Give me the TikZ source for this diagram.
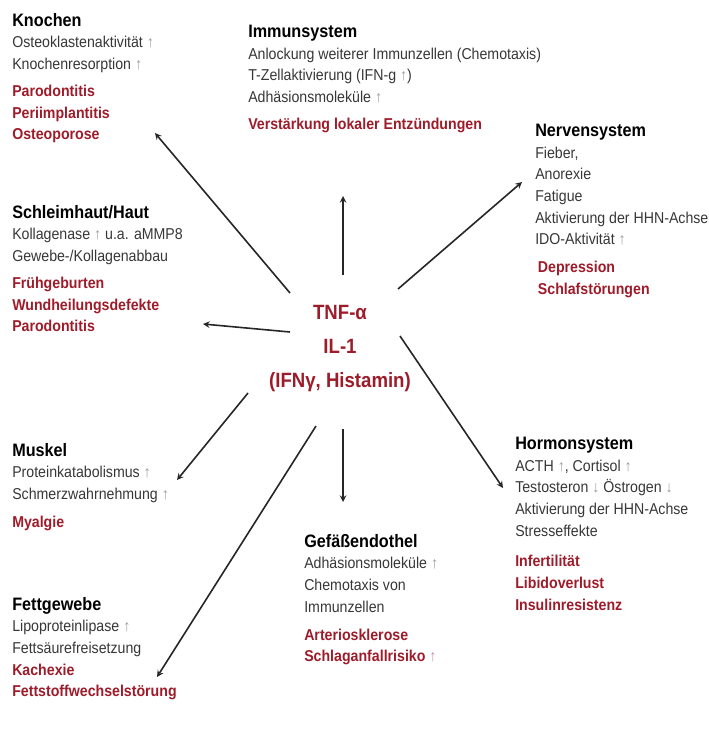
\documentclass[tikz,border=0pt]{standalone}
\usepackage{fontspec}
\setmainfont{Liberation Sans}[FakeStretch=0.9]
\usetikzlibrary{arrows}
\definecolor{folgered}{RGB}{158,27,42}
\definecolor{textgrey}{RGB}{55,55,55}
\newcommand{\organ}[1]{{\fontsize{13.5}{16}\selectfont\bfseries\color{black}#1}}
\newcommand{\folge}[1]{{\bfseries\color{folgered}#1}}
\newcommand{\hoch}{{\mdseries\color{.!50!white}↑}}
\newcommand{\runter}{{\mdseries\color{.!50!white}↓}}
\tikzstyle{organbox} = [anchor=north west, align=left, inner sep=0pt, text=textgrey, font=\fontsize{11.8}{16.2}\selectfont]
\tikzstyle{mediator} = [align=center, inner sep=0pt, text=folgered, font=\fontsize{15.5}{25.5}\selectfont\bfseries]
\tikzstyle{arrow} = [line width=1.2pt, black!85, ->, >=stealth]

\begin{document}
\begin{tikzpicture}[x=0.75pt, y=-0.75pt]
        \useasboundingbox (0,0) rectangle (708,734);
        % Nodes
        \node (tnf) [mediator] at (340,349) {TNF-α\\IL-1\\(IFNγ, Histamin)};
        \node (knochen) [organbox] at (12,13) {\organ{Knochen}\\Osteoklastenaktivität \hoch\\Knochenresorption \hoch\\[4pt]\folge{Parodontitis}\\\folge{Periimplantitis}\\\folge{Osteoporose}};
        \node (immun) [organbox] at (248,25) {\organ{Immunsystem}\\Anlockung weiterer Immunzellen (Chemotaxis)\\T-Zellaktivierung (IFN-g \hoch)\\Adhäsionsmoleküle \hoch\\[4pt]\folge{Verstärkung lokaler Entzündungen}};
        \node (nerven) [organbox] at (535,124) {\organ{Nervensystem}\\Fieber,\\Anorexie\\Fatigue\\Aktivierung der HHN-Achse\\IDO-Aktivität \hoch\\[5pt]\hspace{2pt}\folge{Depression}\\\hspace{2pt}\folge{Schlafstörungen}};
        \node (schleim) [organbox] at (12,205) {\organ{Schleimhaut/Haut}\\Kollagenase \hoch{} u.a. aMMP8\\Gewebe-/Kollagenabbau\\[4pt]\folge{Frühgeburten}\\\folge{Wundheilungsdefekte}\\\folge{Parodontitis}};
        \node (muskel) [organbox] at (12,443) {\organ{Muskel}\\Proteinkatabolismus \hoch\\Schmerzwahrnehmung \hoch\\[5pt]\folge{Myalgie}};
        \node (fett) [organbox] at (12,597) {\organ{Fettgewebe}\\Lipoproteinlipase \hoch\\Fettsäurefreisetzung\\\folge{Kachexie}\\\folge{Fettstoffwechselstörung}};
        \node (gefaess) [organbox] at (304,534) {\organ{Gefäßendothel}\\Adhäsionsmoleküle \hoch\\Chemotaxis von\\Immunzellen\\[5pt]\folge{Arteriosklerose}\\\folge{Schlaganfallrisiko \hoch}};
        \node (hormon) [organbox] at (515,437) {\organ{Hormonsystem}\\ACTH \hoch, Cortisol \hoch\\Testosteron \runter{} Östrogen \runter\\Aktivierung der HHN-Achse\\Stresseffekte\\[7pt]\folge{Infertilität}\\\folge{Libidoverlust}\\\folge{Insulinresistenz}};

        % Arrows
        \draw [arrow] ([shift={(-50,-56)}]tnf.center) -- ([shift={(143,120)}]knochen.north west);
        \draw [arrow] ([shift={(3,-74)}]tnf.center) -- ([shift={(95,171)}]immun.north west);
        \draw [arrow] ([shift={(58,-60)}]tnf.center) -- ([shift={(-13,58)}]nerven.north west);
        \draw [arrow] ([shift={(-50,-17)}]tnf.center) -- ([shift={(191,119)}]schleim.north west);
        \draw [arrow] ([shift={(-92,44)}]tnf.center) -- ([shift={(165,37)}]muskel.north west);
        \draw [arrow] ([shift={(-24,77)}]tnf.center) -- ([shift={(145,80)}]fett.north west);
        \draw [arrow] ([shift={(3,80)}]tnf.center) -- ([shift={(39,-32)}]gefaess.north west);
        \draw [arrow] ([shift={(60,-13)}]tnf.center) -- ([shift={(-12,51)}]hormon.north west);
    \end{tikzpicture}
\end{document}
